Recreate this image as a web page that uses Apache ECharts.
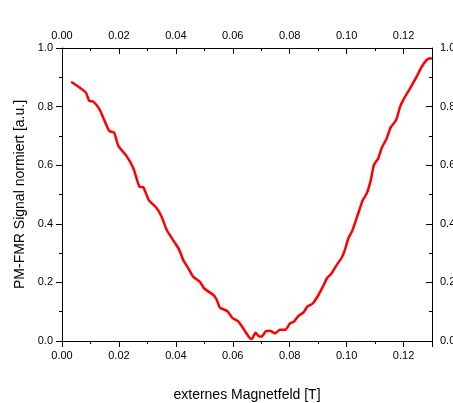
<!DOCTYPE html>
<html>
<head>
<meta charset="utf-8">
<script src="https://cdn.jsdelivr.net/npm/echarts@6/dist/echarts.min.js"></script>
<style>
  html, body { margin: 0; padding: 0; background: #fff; }
  #chart { width: 453px; height: 403px; }
</style>
</head>
<body>
<div id="chart"></div>
<script>
// externes Magnetfeld [T]
const field = [
  0.0032, 0.0083, 0.0096, 0.0110, 0.0131, 0.0151, 0.0166, 0.0183, 0.0198, 0.0227,
  0.0251, 0.0272, 0.0286, 0.0305, 0.0333, 0.0350, 0.0368, 0.0394, 0.0412, 0.0426,
  0.0444, 0.0461, 0.0485, 0.0499, 0.0532, 0.0544, 0.0555, 0.0581, 0.0598, 0.0620,
  0.0640, 0.0658, 0.0667, 0.0680, 0.0693, 0.0701, 0.0717, 0.0731, 0.0748, 0.0766,
  0.0784, 0.0801, 0.0815, 0.0830, 0.0848, 0.0862, 0.0881, 0.0901, 0.0918, 0.0932,
  0.0945, 0.0965, 0.0983, 0.0994, 0.1006, 0.1021, 0.1041, 0.1057, 0.1071, 0.1085,
  0.1096, 0.1111, 0.1123, 0.1141, 0.1155, 0.1174, 0.1188, 0.1202, 0.1223, 0.1246,
  0.1264, 0.1281, 0.1296, 0.1300
]
// PM-FMR Signal normiert
const signal = [
  0.885, 0.849, 0.819, 0.817, 0.792, 0.748, 0.717, 0.711, 0.666, 0.631,
  0.589, 0.527, 0.524, 0.481, 0.453, 0.424, 0.379, 0.339, 0.311, 0.276,
  0.248, 0.219, 0.202, 0.180, 0.157, 0.140, 0.114, 0.102, 0.079, 0.066,
  0.038, 0.012, 0.007, 0.028, 0.015, 0.015, 0.034, 0.035, 0.026, 0.038,
  0.038, 0.060, 0.066, 0.085, 0.097, 0.117, 0.128, 0.157, 0.188, 0.216,
  0.228, 0.259, 0.285, 0.311, 0.350, 0.379, 0.436, 0.481, 0.504, 0.549,
  0.601, 0.623, 0.658, 0.692, 0.729, 0.754, 0.800, 0.828, 0.862, 0.902,
  0.936, 0.959, 0.965, 0.963
]

const chart = echarts.init(document.getElementById('chart'))

const font = 'Liberation Sans, Arial, sans-serif'
const axisLine = { show: true, onZero: false, lineStyle: { color: '#000', width: 1 } }

const xBase = (pos, inside, labelMargin) => ({
  type: 'value',
  position: pos,
  min: 0,
  max: 0.13,
  interval: 0.02,
  axisLine: axisLine,
  axisTick: { show: true, inside: inside, length: 6, lineStyle: { color: '#000' } },
  minorTick: { show: true, splitNumber: 2, length: 3, lineStyle: { color: '#000' } },
  splitLine: { show: false },
  axisLabel: {
    show: true,
    margin: labelMargin,
    color: '#000',
    fontFamily: font,
    fontSize: 11,
    showMaxLabel: false,
    formatter: v => v.toFixed(2),
  },
})

const yBase = (pos, inside, labelMargin) => ({
  type: 'value',
  position: pos,
  min: 0,
  max: 1,
  interval: 0.2,
  axisLine: axisLine,
  axisTick: { show: true, inside: inside, length: 6, lineStyle: { color: '#000' } },
  minorTick: { show: true, splitNumber: 2, length: 3, lineStyle: { color: '#000' } },
  splitLine: { show: false },
  axisLabel: {
    show: true,
    margin: labelMargin,
    color: '#000',
    fontFamily: font,
    fontSize: 11,
    formatter: v => v.toFixed(1),
  },
})

const option = {
  animation: false,
  grid: { left: 62, top: 48, right: 21, bottom: 62, outerBoundsMode: 'none', containLabel: false },
  xAxis: [
    Object.assign(xBase('bottom', false, 9), {
      name: 'externes Magnetfeld [T]',
      nameLocation: 'middle',
      nameGap: 47,
      nameTextStyle: { color: '#000', fontFamily: font, fontSize: 14 },
    }),
    xBase('top', true, 7),
  ],
  yAxis: [
    Object.assign(yBase('left', false, 9), {
      name: 'PM-FMR Signal normiert [a.u.]',
      nameLocation: 'middle',
      nameGap: 34,
      nameTextStyle: { color: '#000', fontFamily: font, fontSize: 14 },
    }),
    yBase('right', true, 8),
  ],
  series: [
    {
      type: 'line',
      xAxisIndex: 0,
      yAxisIndex: 0,
      data: field.map((x, i) => [x, signal[i]]),
      showSymbol: false,
      smooth: 0.2,
      lineStyle: { color: '#ff0000', width: 2.5 },
    },
  ],
}
chart.setOption(option)
</script>
</body>
</html>
